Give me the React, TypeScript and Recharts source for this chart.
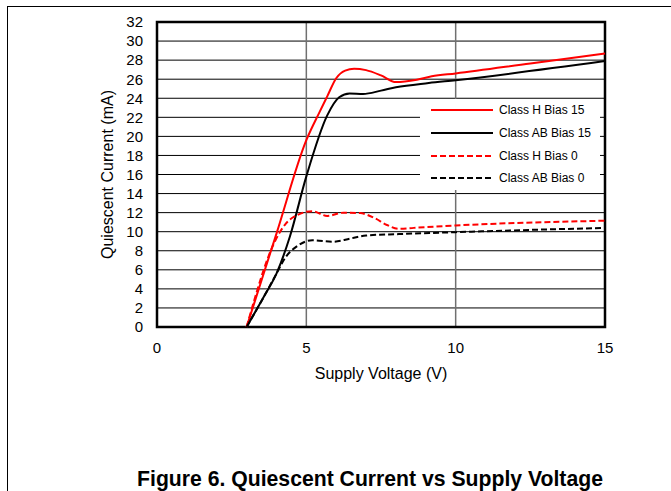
import React from 'react'
import {
  LineChart, Line, XAxis, YAxis, CartesianGrid, Legend, ReferenceArea,
} from 'recharts'

// supply voltage (V) / quiescent current (mA)
const hBias15V = [3, 4, 5, 5.45, 5.7, 6.0, 6.3, 6.6, 7.0, 7.5, 8.0, 8.7, 9.2, 10, 12.5, 15]
const hBias15I = [0, 9.8, 19.6, 22.6, 24.2, 26.1, 26.9, 27.1, 26.95, 26.4, 25.7, 25.95, 26.3, 26.6, 27.65, 28.7]

const abBias15V = [3, 3.6, 4.0, 4.45, 5.0, 5.7, 6.1, 6.45, 6.9, 7.5, 8.0, 9.1, 10, 15]
const abBias15I = [0, 3.3, 5.6, 9.5, 15.8, 22.2, 24.1, 24.5, 24.45, 24.8, 25.15, 25.6, 25.9, 27.9]

const hBias0V = [3, 3.95, 4.3, 4.7, 5.2, 5.7, 6.25, 6.8, 7.3, 7.7, 8.1, 8.6, 10, 15]
const hBias0I = [0, 9.0, 10.8, 11.75, 12.15, 11.65, 12.0, 11.95, 11.4, 10.7, 10.3, 10.4, 10.65, 11.15]

const abBias0V = [3, 3.6, 4.0, 4.3, 4.7, 5.2, 5.9, 6.5, 7.0, 8.1, 10, 15]
const abBias0I = [0, 3.3, 5.6, 7.3, 8.5, 9.1, 8.95, 9.3, 9.6, 9.75, 9.95, 10.4]

const xTicks = [0, 5, 10, 15]
const yTicks = [0, 2, 4, 6, 8, 10, 12, 14, 16, 18, 20, 22, 24, 26, 28, 30, 32]

const FONT = '"Liberation Sans", Arial, Helvetica, sans-serif'

const pts = (v: number[], i: number[]) => v.map((x, k) => ({ v: x, i: i[k] }))

const series = [
  { name: 'Class H Bias 15', data: pts(hBias15V, hBias15I), color: '#ff0000', dash: undefined },
  { name: 'Class AB Bias 15', data: pts(abBias15V, abBias15I), color: '#000000', dash: undefined },
  { name: 'Class H Bias 0', data: pts(hBias0V, hBias0I), color: '#ff0000', dash: '6 3' },
  { name: 'Class AB Bias 0', data: pts(abBias0V, abBias0I), color: '#000000', dash: '6 3' },
]

function LegendBox() {
  return (
    <div style={{ background: '#fff', width: 180, fontFamily: FONT, fontSize: 12, color: '#000' }}>
      {series.map(s => (
        <div key={s.name} style={{ display: 'flex', alignItems: 'center', height: 22.7 }}>
          <svg width={62} height={6} style={{ marginLeft: 11, marginRight: 6 }}>
            <line x1={0} y1={3} x2={62} y2={3} stroke={s.color} strokeWidth={2} strokeDasharray={s.dash} />
          </svg>
          <span>{s.name}</span>
        </div>
      ))}
    </div>
  )
}

export default function App() {
  return (
    <div style={{ position: 'absolute', left: 0, top: 0, width: 671, height: 491, background: '#fff', overflow: 'hidden' }}>
      <div style={{ position: 'absolute', left: 7, top: 6, right: 0, bottom: 0, borderTop: '1px solid #000', borderLeft: '1px solid #000' }} />
      <LineChart
        width={671}
        height={491}
        margin={{ top: 22, right: 66, left: 97, bottom: 104 }}
        style={{ fontFamily: FONT }}
      >
        <CartesianGrid vertical={false} stroke="#000" strokeWidth={1} />
        <CartesianGrid horizontal={false} stroke="#707070" strokeWidth={1.5} />
        <XAxis
          type="number"
          dataKey="v"
          domain={[0, 15]}
          ticks={xTicks}
          axisLine={false}
          tickLine={false}
          tickSize={6}
          tickMargin={9}
          height={60}
          tick={{ fill: '#000', fontSize: 15, fontFamily: FONT }}
          label={{ value: 'Supply Voltage (V)', position: 'insideBottom', offset: 8, fill: '#000', fontSize: 16, fontFamily: FONT }}
        />
        <YAxis
          type="number"
          domain={[0, 32]}
          ticks={yTicks}
          interval={0}
          axisLine={false}
          tickLine={false}
          tickSize={6}
          tickMargin={8}
          width={60}
          tick={{ fill: '#000', fontSize: 15, fontFamily: FONT }}
          label={{ value: 'Quiescent Current (mA)', angle: -90, position: 'insideLeft', offset: 10, fill: '#000', fontSize: 16, fontFamily: FONT, style: { textAnchor: 'middle' } }}
        />
        <ReferenceArea x1={0} x2={15} y1={0} y2={32} fill="none" stroke="#000" strokeWidth={2.5} ifOverflow="visible" />
        {series.map(s => (
          <Line
            key={s.name}
            data={s.data}
            dataKey="i"
            name={s.name}
            type="monotone"
            stroke={s.color}
            strokeWidth={2}
            strokeDasharray={s.dash}
            dot={false}
            activeDot={false}
            isAnimationActive={false}
          />
        ))}
        <Legend
          layout="vertical"
          align="center"
          verticalAlign="middle"
          content={() => <LegendBox />}
          wrapperStyle={{ left: 420, top: 99, width: 180, height: 91 }}
        />
      </LineChart>
      <div
        style={{
          position: 'absolute', left: 0, width: 740, top: 468, textAlign: 'center',
          fontFamily: FONT, fontWeight: 'bold', fontSize: 21.2, lineHeight: '21px', color: '#000', whiteSpace: 'nowrap',
        }}
      >
        Figure 6. Quiescent Current vs Supply Voltage
      </div>
    </div>
  )
}
